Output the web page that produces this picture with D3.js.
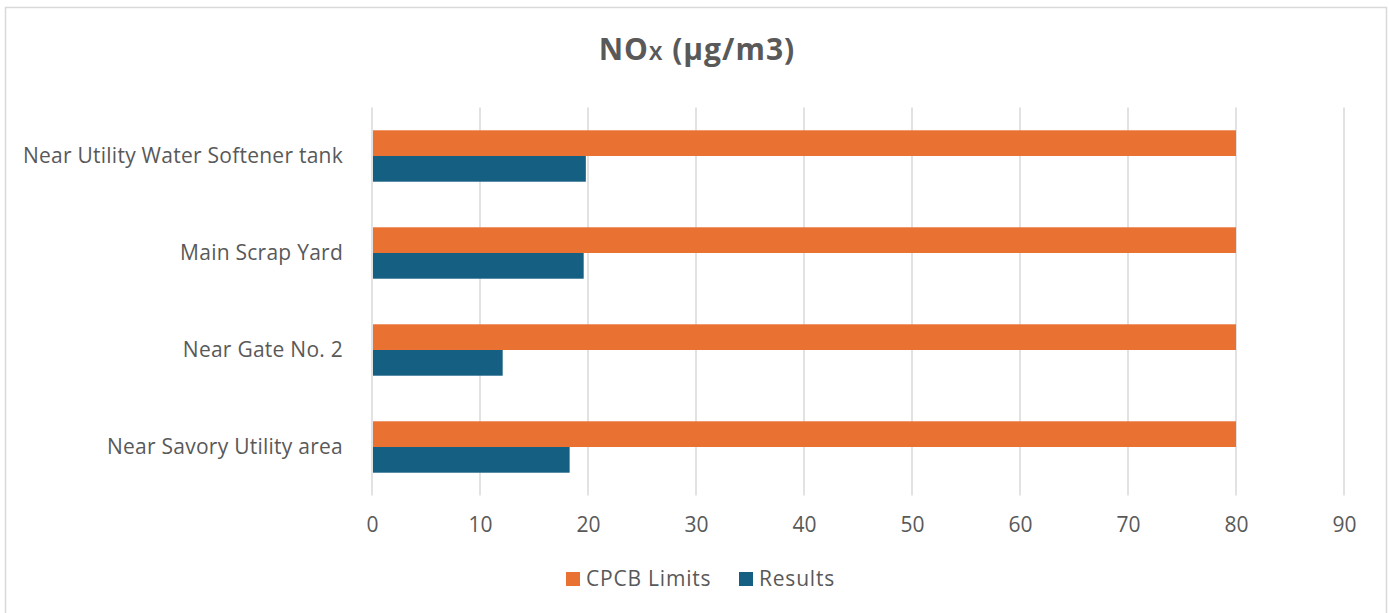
<!DOCTYPE html>
<html>
<head>
<meta charset="utf-8">
<script src="https://cdn.jsdelivr.net/npm/d3@7"></script>
<style>
  html, body { margin: 0; padding: 0; background: #fff; }
  svg { display: block; font-family: "Open Sans", "Noto Sans", sans-serif; }
</style>
</head>
<body>
<svg id="chart" width="1389" height="613"></svg>
<script>
const categories = ["Near Utility Water Softener tank", "Main Scrap Yard", "Near Gate No. 2", "Near Savory Utility area"];
const cpcbLimits = [80, 80, 80, 80];
const results = [19.8, 19.6, 12.1, 18.3];
const seriesNames = ["CPCB Limits", "Results"];
const seriesColors = ["#E97132", "#156082"];
const xTicks = [0, 10, 20, 30, 40, 50, 60, 70, 80, 90];

const svg = d3.select("#chart");
const W = 1389, H = 613;
const textColor = "#595959";
const gridColor = "#d9d9d9";

// outer border
svg.append("rect").attr("x", 5.5).attr("y", 7.5).attr("width", W - 8).attr("height", H + 10)
  .attr("fill", "#fff").attr("stroke", gridColor).attr("stroke-width", 1.5);

const plot = { left: 372, right: 1344, top: 107.5, bottom: 495.5 };

const x = d3.scaleLinear().domain([0, 90]).range([plot.left, plot.right]);
const y = d3.scaleBand().domain(categories).range([plot.top, plot.bottom]).paddingInner(0.47).paddingOuter(0.235);
const sub = d3.scaleBand().domain(seriesNames).range([0, y.bandwidth()]);

// gridlines
svg.append("g").selectAll("line").data(xTicks).join("line")
  .attr("x1", d => x(d)).attr("x2", d => x(d))
  .attr("y1", plot.top).attr("y2", plot.bottom)
  .attr("stroke", gridColor).attr("stroke-width", 1.5);

// bars
const groups = svg.append("g").selectAll("g").data(categories).join("g")
  .attr("transform", d => `translate(0,${y(d)})`);
const seriesData = [cpcbLimits, results];
groups.each(function(c, i) {
  d3.select(this).selectAll("rect").data(seriesNames).join("rect")
    .attr("x", x(0) + 1)
    .attr("y", s => sub(s))
    .attr("width", (s, j) => x(seriesData[j][i]) - x(0) - 1)
    .attr("height", sub.bandwidth())
    .attr("fill", (s, j) => seriesColors[j]);
});

// x axis labels
const xAxis = d3.axisBottom(x).tickValues(xTicks).tickSize(0).tickPadding(22);
const gx = svg.append("g").attr("transform", `translate(0,${plot.bottom})`).call(xAxis);
gx.select(".domain").remove();
gx.selectAll("text").attr("fill", textColor).style("font-size", "21px").style("font-family", "'Open Sans', sans-serif");

// y axis labels
const yAxis = d3.axisLeft(y).tickSize(0).tickPadding(29);
const gy = svg.append("g").attr("transform", `translate(${plot.left},0)`).call(yAxis);
gy.select(".domain").remove();
gy.selectAll("text").attr("fill", textColor).style("font-size", "21px").style("font-family", "'Open Sans', sans-serif")
  .style("letter-spacing", "0.25px");

// title
const title = svg.append("text").attr("x", 697).attr("y", 60).attr("text-anchor", "middle")
  .attr("fill", textColor).style("font-size", "30px").style("font-weight", "bold")
  .style("letter-spacing", "1px");
title.append("tspan").text("NO");
title.append("tspan").text("X").style("font-size", "20px");
title.append("tspan").text(" (μg/m3)");

// legend
const legend = svg.append("g").attr("transform", "translate(566,572)");
const legX = [0, 173];
seriesNames.forEach((s, i) => {
  const g = legend.append("g").attr("transform", `translate(${legX[i]},0)`);
  g.append("rect").attr("width", 14).attr("height", 14).attr("fill", seriesColors[i]);
  g.append("text").attr("x", 20).attr("y", 14).attr("fill", textColor)
    .style("font-size", "21px").style("letter-spacing", "0.8px").text(s);
});
</script>
</body>
</html>
